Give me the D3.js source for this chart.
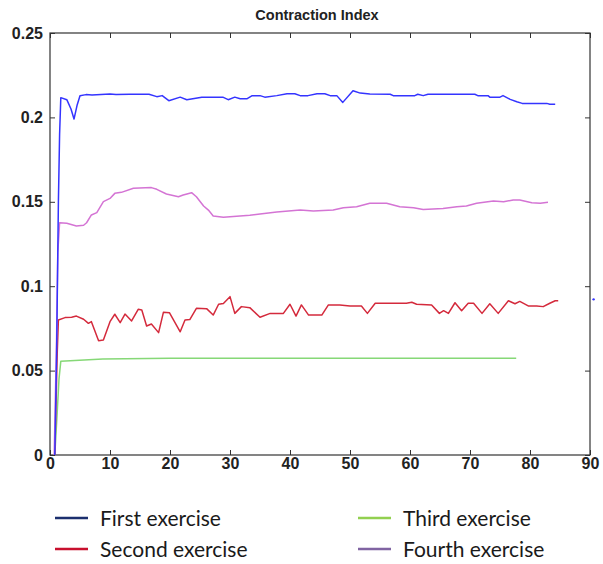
<!DOCTYPE html>
<html>
<head>
<meta charset="utf-8">
<script src="https://cdn.jsdelivr.net/npm/d3@7"></script>
<style>
  body { margin: 0; background: #fff; }
  .tick text { font: bold 16px "Liberation Sans Narrow", "Arial Narrow", sans-serif; fill: #222; }
  .axis path { display: none; }
  .axis line { stroke: #333; }
</style>
</head>
<body>
<script>
// values: [time, contraction index]
const first = [[0.8,0],[1.1,0.06],[1.4,0.15],[1.6,0.19],[1.8,0.2117],[2.8,0.2105],[3.5,0.205],[4,0.199],[4.5,0.207],[5,0.2128],[6,0.2135],
  [7,0.2133],[10,0.2138],[11,0.2135],[13.3,0.2137],[16.5,0.2137],[17.8,0.2123],[18.7,0.2129],[19.8,0.2099],[21.7,0.212],[22.8,0.2105],
  [25.3,0.212],[28.8,0.212],[29.7,0.2105],[30.8,0.212],[31.7,0.211],[32.8,0.211],[33.7,0.2129],[35,0.2129],[35.8,0.212],[37.8,0.2129],
  [39.5,0.214],[40.8,0.214],[41.7,0.2129],[43,0.2129],[44.5,0.214],[45.8,0.214],[46.7,0.2129],[47.8,0.2129],[48.8,0.2089],[50.5,0.2158],
  [51.7,0.2144],[53.3,0.2138],[56.7,0.2137],[57.2,0.2129],[60.8,0.2129],[61.3,0.2137],[62.2,0.2129],[63,0.2137],[70.8,0.2137],
  [71.3,0.2129],[73,0.2129],[73.3,0.212],[75,0.212],[75.5,0.2129],[76.7,0.2107],[77.8,0.2093],[78.7,0.2083],[82.8,0.2083],[83.3,0.2078],[84.2,0.2078]];

const second = [[0.8,0],[1.0,0.03],[1.2,0.06],[1.4,0.08],[2.5,0.0814],[3.6,0.0816],[4.4,0.0823],[5.6,0.0804],[6.4,0.078],[6.9,0.079],
  [8.1,0.0677],[8.9,0.0681],[10,0.079],[10.8,0.0834],[11.7,0.0784],[12.5,0.0835],[13.6,0.0794],[14.7,0.0863],[15.3,0.0859],[16.1,0.0764],
  [16.9,0.0776],[18.1,0.0725],[18.9,0.0845],[19.9,0.0843],[21.7,0.073],[22.5,0.08],[23.3,0.0802],[24.4,0.0869],[26.1,0.0867],[27.2,0.0829],
  [28.1,0.0893],[28.9,0.0897],[30,0.0938],[30.8,0.0839],[31.9,0.0879],[33.3,0.0873],[35,0.0816],[36.7,0.0839],[38.9,0.0839],[40,0.0893],
  [41,0.0823],[41.9,0.0889],[43.1,0.0829],[45.3,0.0829],[46.4,0.0889],[48.3,0.0889],[50,0.0883],[51.9,0.0883],[52.9,0.0839],[54.2,0.0899],
  [56.7,0.0899],[59.4,0.0899],[60.3,0.0905],[61.1,0.0893],[63.6,0.0889],[64.9,0.0839],[65.6,0.0855],[66.4,0.0839],[67.5,0.0902],[68.6,0.0855],
  [69.7,0.0899],[70.6,0.0899],[72,0.0839],[73.3,0.0896],[74.7,0.0839],[76.4,0.0914],[77.5,0.0896],[78.3,0.091],[79.7,0.0883],[81.1,0.0883],
  [82.2,0.0879],[83.3,0.0899],[84.2,0.0914],[84.7,0.0914]];

const third = [[0.8,0],[1.2,0.025],[1.5,0.045],[1.8,0.0555],[8.8,0.0568],[20,0.0573],[77.7,0.0573]];

const fourth = [[0.7,0],[1.1,0.07],[1.3,0.12],[1.6,0.1376],[2.8,0.1373],[4.4,0.1357],[5.6,0.1361],[6.1,0.1376],[6.9,0.1422],[7.8,0.1436],
  [8.9,0.1501],[10,0.152],[10.8,0.155],[11.9,0.1556],[13.9,0.158],[16.9,0.1584],[17.8,0.1574],[19.4,0.1546],[21.4,0.153],[22.2,0.154],
  [23.6,0.1554],[24.4,0.153],[25.6,0.1475],[26.4,0.1451],[27.2,0.1416],[28.9,0.1408],[30,0.1412],[33.3,0.142],[35,0.1428],[37.8,0.144],
  [41.7,0.1451],[43.9,0.1446],[47.2,0.1451],[48.9,0.1465],[51.1,0.1471],[53.3,0.1491],[56.1,0.1491],[58.3,0.1471],[60.6,0.1465],
  [62.2,0.1455],[65.5,0.1461],[67.8,0.1471],[69.4,0.1475],[71.1,0.1491],[73.9,0.1505],[75.6,0.15],[77.2,0.1511],[78.3,0.1511],
  [80.3,0.1495],[81.7,0.1491],[83,0.1497]];

const strayPoint = [[90.6,0.0922]];

const xTicks = [0,10,20,30,40,50,60,70,80,90];
const yTicks = [0,0.05,0.1,0.15,0.2,0.25];
const legendLabels = ["First exercise","Second exercise","Third exercise","Fourth exercise"];
const lineColors = ["#3434ff","#d42a3c","#86d877","#d474d4"];
const legendColors = ["#1b2f6e","#c8102e","#92d050","#8064a2"];

const width = 603, height = 564;
const margin = {top: 33, right: 13, bottom: 109, left: 50};
const svg = d3.select("body").append("svg").attr("width", width).attr("height", height);

const x = d3.scaleLinear().domain([0, 90]).range([margin.left, width - margin.right]);
const y = d3.scaleLinear().domain([0, 0.25]).range([height - margin.bottom, margin.top]);

svg.append("text")
  .attr("x", (x(0) + x(90)) / 2 - 3).attr("y", 20)
  .attr("text-anchor", "middle")
  .style("font", "bold 14.5px 'Liberation Sans Narrow', 'Arial Narrow', sans-serif")
  .attr("fill", "#222")
  .text("Contraction Index");

const fmtY = d => d === 0 ? "0" : String(+d.toFixed(2));

svg.append("g").attr("class", "axis").attr("transform", `translate(0,${y(0)})`)
  .call(d3.axisBottom(x).tickValues(xTicks).tickSize(-5).tickPadding(3).tickFormat(d3.format("d")));
svg.append("g").attr("class", "axis").attr("transform", `translate(0,${y(0.25)})`)
  .call(d3.axisTop(x).tickValues(xTicks).tickSize(-5).tickFormat(""));
svg.append("g").attr("class", "axis").attr("transform", `translate(${x(0)},0)`)
  .call(d3.axisLeft(y).tickValues(yTicks).tickSize(-5).tickPadding(7).tickFormat(fmtY));
svg.append("g").attr("class", "axis").attr("transform", `translate(${x(90)},0)`)
  .call(d3.axisRight(y).tickValues(yTicks).tickSize(-5).tickFormat(""));

svg.append("rect")
  .attr("x", x(0)).attr("y", y(0.25))
  .attr("width", x(90) - x(0)).attr("height", y(0) - y(0.25))
  .attr("fill", "none").attr("stroke", "#333").attr("stroke-width", 1.2);

const line = d3.line().x(d => x(d[0])).y(d => y(d[1]));
const series = [third, second, fourth, first];
const seriesColors = [lineColors[2], lineColors[1], lineColors[3], lineColors[0]];
svg.append("g").selectAll("path").data(series).join("path")
  .attr("d", line)
  .attr("fill", "none")
  .attr("stroke", (d, i) => seriesColors[i])
  .attr("stroke-width", 1.5)
  .attr("stroke-linejoin", "round");

svg.append("g").selectAll("circle").data(strayPoint).join("circle")
  .attr("cx", d => x(d[0])).attr("cy", d => y(d[1]))
  .attr("r", 1.2).attr("fill", lineColors[0]);

// legend
const legend = svg.append("g").selectAll("g").data(legendLabels).join("g")
  .attr("transform", (d, i) => `translate(${i < 2 ? 55 : 358},${i % 2 === 0 ? 518 : 549})`);
legend.append("line")
  .attr("x1", 0).attr("x2", 33).attr("y1", 0).attr("y2", 0)
  .attr("stroke", (d, i) => legendColors[i]).attr("stroke-width", 2.5);
legend.append("text")
  .attr("x", 45).attr("y", 8)
  .style("font", "21px Lato, 'Open Sans', sans-serif").attr("fill", "#1a1a1a")
  .text(d => d);
</script>
</body>
</html>
